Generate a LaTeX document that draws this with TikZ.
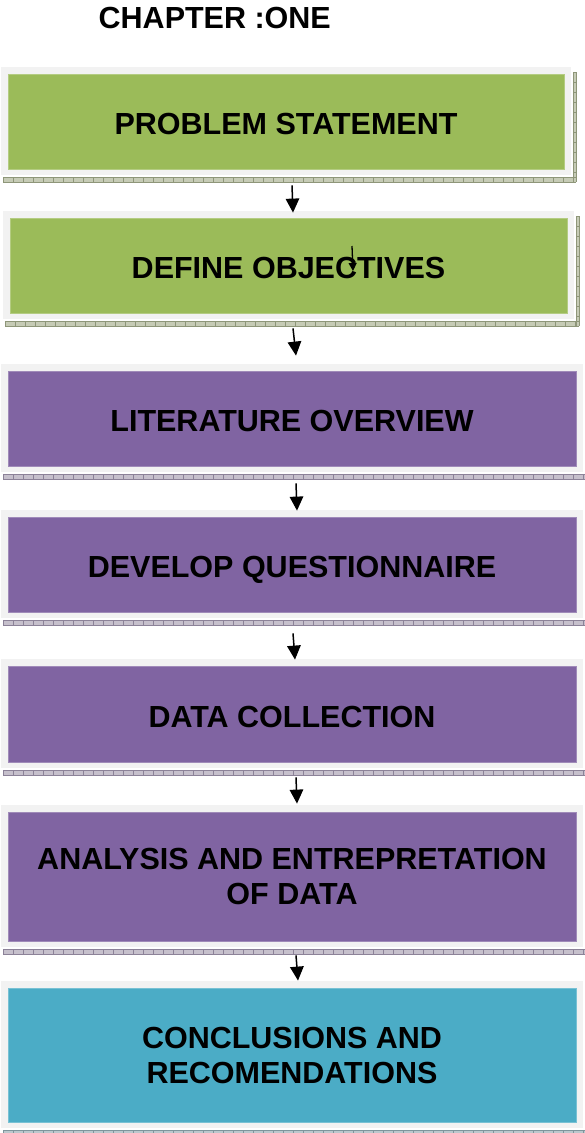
\documentclass[tikz,border=0pt]{standalone}
\usepackage{fontspec}
\setmainfont{Liberation Sans}
\usetikzlibrary{arrows.meta}

\definecolor{framegray}{HTML}{F2F2F2}
\definecolor{stagegreen}{HTML}{9BBB59}
\definecolor{stagepurple}{HTML}{8064A2}
\definecolor{stageblue}{HTML}{4BACC6}
\definecolor{grnfill}{HTML}{C6CBB6}
\definecolor{grnline}{HTML}{8E9679}
\definecolor{purfill}{HTML}{C6C0CC}
\definecolor{purline}{HTML}{8C8298}
\definecolor{blufill}{HTML}{BCC8CD}
\definecolor{bluline}{HTML}{7F959C}

\tikzset{
  stagebox/.style={rectangle, inner sep=0pt, draw=#1!75!white, line width=0.8pt,
    fill=#1, font=\bfseries\fontsize{30.5}{35}\selectfont, text=black},
  oneline/.style={text height=26.8pt, text depth=0pt},
  twoline/.style={align=center},
  flow/.style={line width=1.5pt, -{Triangle[length=14pt,width=13.5pt]}},
  smallflow/.style={line width=1.3pt, -{Triangle[length=8pt,width=8pt]}},
  heading/.style={inner sep=0pt, font=\bfseries\fontsize{30.5}{35}\selectfont}
}

% #1 name, #2-#5 inner box x0 y0 x1 y1, #6 fill colour, #7 shadow prefix,
% #8 text style, #9 text
\newcommand\stage[9]{%
  % light frame
  \fill[framegray] (#2-7,#3-7) rectangle (#4+7,#5+6);
  % hatched shadow strips, bottom and right
  \fill[#7fill] (#2-5,#5+8) rectangle (#4+12,#5+13);
  \fill[#7fill] (#4+9,#3-2) rectangle (#4+12,#5+13);
  \draw[#7line, line width=0.5pt] (#2-5,#5+8) -- (#4+12,#5+8)
    (#2-5,#5+13) -- (#4+12,#5+13) (#4+9,#3-2) -- (#4+9,#5+13)
    (#4+12,#3-2) -- (#4+12,#5+13);
  \pgfmathtruncatemacro\nticks{(#4-#2+17)/10}
  \foreach \k in {0,...,\nticks}{\draw[#7line, line width=0.4pt] (#2-5+10*\k,#5+8) -- ++(0,5);}
  \pgfmathtruncatemacro\vticks{(#5-#3+15)/10}
  \foreach \k in {0,...,\vticks}{\draw[#7line, line width=0.4pt] (#4+9,#3-2+10*\k) -- ++(3,0);}
  % coloured stage box with its text
  \node[stagebox=#6, #8, minimum width=#4-#2, minimum height=#5-#3]
    (#1) at ({(#2+#4)/2},{(#3+#5)/2}) {#9};
}

\begin{document}
\begin{tikzpicture}[x=1pt,y=-1pt]
\useasboundingbox (0,0) rectangle (584,1133);
\fill[white] (0,0) rectangle (584,1133);

\node[heading, anchor=base west] (title) at (98.5,28.5) {CHAPTER :ONE};

\stage{b1}{8}{74}{564}{169}{stagegreen}{grn}{oneline}{PROBLEM STATEMENT}
\stage{b2}{10}{218}{567}{313}{stagegreen}{grn}{oneline}{DEFINE OBJECTIVES}
\stage{b3}{8}{371}{576}{466}{stagepurple}{pur}{oneline}{LITERATURE OVERVIEW}
\stage{b4}{8}{517}{576}{612}{stagepurple}{pur}{oneline}{DEVELOP QUESTIONNAIRE}
\stage{b5}{8}{666}{576}{762}{stagepurple}{pur}{oneline}{DATA COLLECTION}
\stage{b6}{8}{812}{576}{941}{stagepurple}{pur}{twoline}{ANALYSIS AND ENTREPRETATION\\OF DATA}
\stage{b7}{8}{988}{576}{1122}{stageblue}{blu}{twoline}{CONCLUSIONS AND\\RECOMENDATIONS}

% connectors between the stages
\draw[flow] ([xshift=6pt,yshift=-16pt]b1.south) -- ([xshift=4.5pt,yshift=5pt]b2.north);
\draw[flow] ([xshift=4.5pt,yshift=-15pt]b2.south) -- ([xshift=4pt,yshift=15pt]b3.north);
\draw[flow] ([xshift=4pt,yshift=-17pt]b3.south) -- ([xshift=5pt,yshift=6pt]b4.north);
\draw[flow] ([xshift=1pt,yshift=-21pt]b4.south) -- ([xshift=3pt,yshift=6pt]b5.north);
\draw[flow] ([xshift=4pt,yshift=-15pt]b5.south) -- ([xshift=5pt,yshift=8pt]b6.north);
\draw[flow] ([xshift=4pt,yshift=-14pt]b6.south) -- ([xshift=6pt,yshift=7pt]b7.north);

% small arrow lying over the second stage's text
\coordinate (s1) at ([xshift=63.5pt,yshift=19.5pt]b2.center);
\coordinate (s2) at ([xshift=64.5pt,yshift=-5.5pt]b2.center);
\draw[smallflow] (s1) -- (s2);
\end{tikzpicture}
\end{document}
